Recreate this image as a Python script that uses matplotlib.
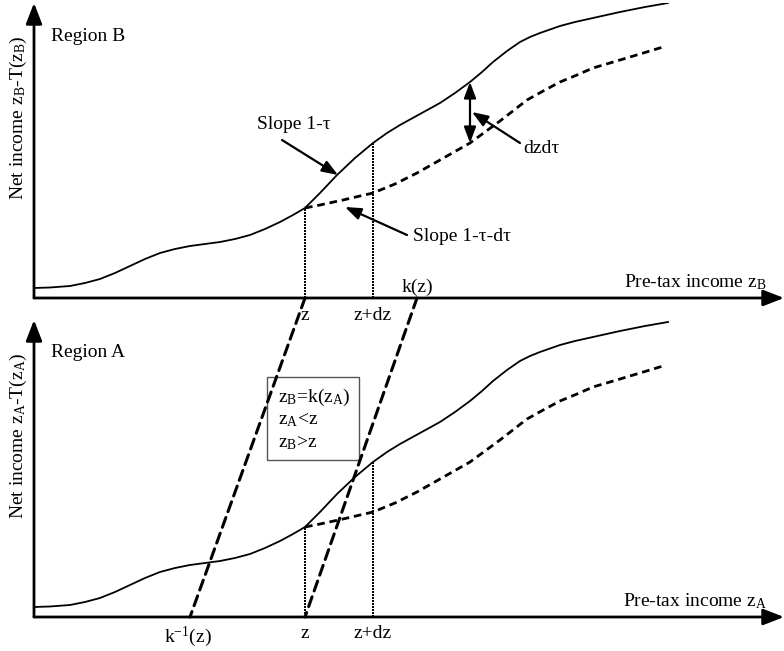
import numpy as np
import matplotlib.pyplot as plt
from matplotlib.patches import ConnectionPatch, Rectangle

plt.rcParams['font.family'] = ['Liberation Serif', 'DejaVu Serif']
plt.rcParams['mathtext.fontset'] = 'custom'
plt.rcParams['mathtext.rm'] = 'Liberation Serif'
plt.rcParams['mathtext.it'] = 'Liberation Serif:italic'
plt.rcParams['lines.scale_dashes'] = False

# schedule curves (same shape in both regions)
solid_x = [0, 16, 36, 51, 66, 81, 96, 111, 126, 141, 156, 171, 186, 201,
           216, 231, 246, 259, 271, 286, 303, 321, 339, 353, 366, 386, 406,
           421, 436, 448, 459, 473, 486, 496, 506, 526, 541, 559, 586, 611,
           634]
solid_y = [10, 10.5, 12, 15, 19, 25, 32, 39, 45, 49, 52, 54, 56, 59,
           63, 69, 76, 83, 90, 105, 123, 140, 155, 165, 173, 184, 195,
           205, 216, 226, 236, 247, 256, 261, 265, 272, 276, 280, 286, 291,
           295]
dashed_x = [271, 286, 309, 339, 361, 383, 406, 436, 466, 493, 511, 526,
            543, 559, 586, 606, 629]
dashed_y = [90, 93, 98, 105, 114, 125, 138, 155, 177, 198, 208, 216,
            223, 230, 238, 244, 251]

# key incomes on the horizontal axes
z = 271
z_dz = 339
k_z = 383
k_inv_z = 156
x_end = 750

fs = 14
fig = plt.figure(figsize=(7.84, 6.51), dpi=100)
axB = fig.add_axes([34 / 784, 353 / 651, 750 / 784, 295 / 651])
axA = fig.add_axes([34 / 784, 34 / 651, 750 / 784, 297 / 651])

axis_arrow = dict(arrowstyle='-|>,head_length=0.9,head_width=0.35', lw=2,
                  color='k', shrinkA=0, shrinkB=0, mutation_scale=14)
small_arrow = dict(arrowstyle='-|>,head_length=0.8,head_width=0.3', lw=1.6,
                   color='k', shrinkA=0, shrinkB=0, mutation_scale=12)


def y_at(xs, ys, x):
    return float(np.interp(x, xs, ys))


def draw_panel(ax, y_top, region, sub):
    ax.set_xlim(0, x_end)
    ax.set_ylim(0, y_top)
    ax.axis('off')
    ax.annotate('', xy=(x_end, 0), xytext=(0, 0), arrowprops=axis_arrow,
                annotation_clip=False)
    ax.annotate('', xy=(0, y_top), xytext=(0, 0), arrowprops=axis_arrow,
                annotation_clip=False)
    ax.plot(solid_x, solid_y, color='k', lw=1.3, solid_joinstyle='round')
    ax.plot(dashed_x, dashed_y, color='k', lw=2.0, dashes=(5.5, 3.5))
    for xv in (z, z_dz):
        ax.vlines(xv, 0, y_at(solid_x, solid_y, xv), color='k', lw=1.4,
                  linestyles=(0, (0.75, 0.75)), antialiased=False)
    ax.text(17, y_top - 33, 'Region ' + region, fontsize=fs, ha='left',
            va='center')
    ax.text(-16, y_top * 0.61,
            'Net income z$_{\\mathrm{%s}}$-T(z$_{\\mathrm{%s}}$)' % (sub, sub),
            fontsize=fs, rotation=90, ha='center', va='center',
            clip_on=False)
    ax.text(733, 11, 'Pre-tax income z$_{\\mathrm{%s}}$' % sub, fontsize=fs,
            ha='right', va='baseline')


draw_panel(axB, 295, 'B', 'B')
draw_panel(axA, 297, 'A', 'A')

# region B labels
axB.text(z, -9, 'z', fontsize=fs, ha='center', va='top')
axB.text(z_dz, -9, 'z+dz', fontsize=fs, ha='center', va='top')
axB.text(k_z, 6, 'k(z)', fontsize=fs, ha='center', va='baseline')

axB.text(223, 174, 'Slope 1-τ', fontsize=fs, ha='left', va='center')
axB.annotate('', xy=(304, 123), xytext=(248, 158), arrowprops=small_arrow)
axB.text(379, 62, 'Slope 1-τ-dτ', fontsize=fs, ha='left', va='center')
axB.annotate('', xy=(311, 91), xytext=(373, 63), arrowprops=small_arrow)
axB.text(489, 150, 'dzdτ', fontsize=fs, ha='left', va='center')
axB.annotate('', xy=(438, 186), xytext=(486, 155), arrowprops=small_arrow)
gap_x = 436
axB.annotate('', xy=(gap_x, y_at(solid_x, solid_y, gap_x)),
             xytext=(gap_x, y_at(dashed_x, dashed_y, gap_x)),
             arrowprops=dict(small_arrow, arrowstyle='<|-|>,head_length=0.8,head_width=0.3'))

# region A labels
axA.text(k_inv_z - 2, -8, 'k$^{\\mathrm{-1}}$(z)', fontsize=fs, ha='center',
         va='top')
axA.text(z, -8, 'z', fontsize=fs, ha='center', va='top')
axA.text(z_dz, -8, 'z+dz', fontsize=fs, ha='center', va='top')

axA.add_patch(Rectangle((233, 157), 92, 83, fill=False, ec='#555555',
                        lw=1.0, zorder=1))
box_lines = ['z$_{\\mathrm{B}}$=k(z$_{\\mathrm{A}}$)',
             'z$_{\\mathrm{A}}$<z', 'z$_{\\mathrm{B}}$>z']
for i, s in enumerate(box_lines):
    axA.text(244, 220 - 23 * i, s, fontsize=fs, ha='left', va='center')

# mapping between the two regions
for xb, xa in ((z, k_inv_z), (k_z, z)):
    con = ConnectionPatch(xyA=(xb, 0), coordsA=axB.transData,
                          xyB=(xa, 0), coordsB=axA.transData,
                          color='k', lw=2.2, linestyle=(0, (7.5, 4.5)),
                          zorder=5)
    fig.add_artist(con)

fig.savefig('out.png', dpi=100)
